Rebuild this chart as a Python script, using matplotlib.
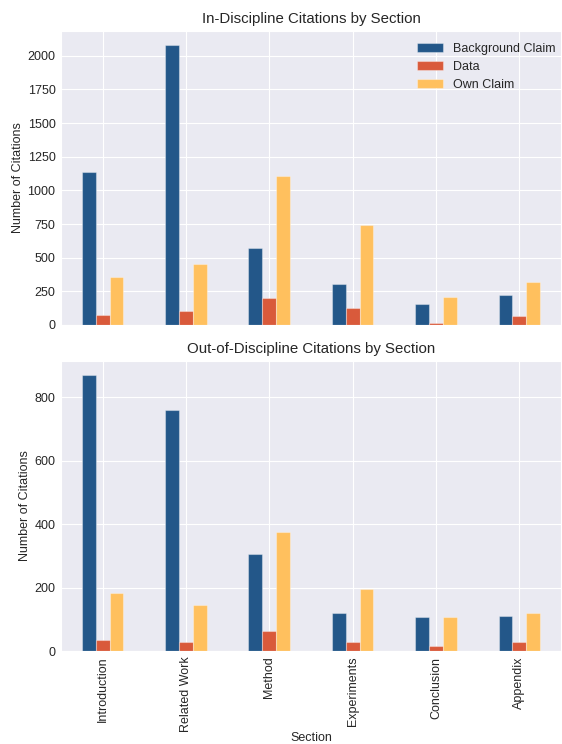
import matplotlib
matplotlib.use("Agg")
import matplotlib.pyplot as plt
import numpy as np
import seaborn as sns

sections = ["Introduction", "Related Work", "Method", "Experiments", "Conclusion", "Appendix"]
series_names = ["Background Claim", "Data", "Own Claim"]

in_background = [1140, 2080, 570, 307, 157, 220]
in_data = [77, 102, 202, 125, 18, 68]
in_own = [360, 450, 1108, 740, 210, 322]

out_background = [870, 760, 305, 119, 107, 110]
out_data = [35, 28, 63, 28, 15, 28]
out_own = [183, 145, 376, 195, 106, 119]

colors = ["#235789", "#D95A3B", "#FFC05E"]

sns.set_style("darkgrid")
plt.rcParams["font.family"] = ["Liberation Sans", "DejaVu Sans"]
plt.rcParams["text.color"] = "#262626"
plt.rcParams["axes.labelcolor"] = "#262626"
plt.rcParams["xtick.color"] = "#262626"
plt.rcParams["ytick.color"] = "#262626"

W, H = 562, 744
fig = plt.figure(figsize=(W / 100, H / 100), dpi=100)
ax1 = fig.add_axes([61 / W, (H - 325) / H, 500 / W, 294 / H])
ax2 = fig.add_axes([61 / W, (H - 651) / H, 500 / W, 290 / H], sharex=ax1)

x = np.arange(len(sections))
bw = 0.5 / 3


def draw(ax, data, title, show_legend):
    for i, (vals, name) in enumerate(zip(data, series_names)):
        ax.bar(x + (i - 1) * bw, vals, width=bw, color=colors[i], label=name,
               edgecolor=(1, 1, 1, 0.35), linewidth=0.8)
    ymax = max(max(v) for v in data)
    ax.set_ylim(0, ymax * 1.05)
    ax.set_xlim(-0.5, len(sections) - 0.5)
    ax.set_title(title, fontsize=10.8, pad=6)
    ax.set_ylabel("Number of Citations", fontsize=9, labelpad=2.5)
    ax.tick_params(axis="both", labelsize=9, length=0, pad=4)
    if show_legend:
        ax.legend(loc="upper right", bbox_to_anchor=(1.0, 0.98), fontsize=9,
                  frameon=False, handlelength=2.1, handleheight=0.7,
                  labelspacing=0.5, borderaxespad=0.05)


draw(ax1, [in_background, in_data, in_own], "In-Discipline Citations by Section", True)
draw(ax2, [out_background, out_data, out_own], "Out-of-Discipline Citations by Section", False)

ax1.tick_params(axis="x", labelbottom=False)
ax2.set_xticks(x)
ax2.set_xticklabels(sections, rotation=90)
ax2.set_xlabel("Section", fontsize=9, labelpad=0)
ax2.set_yticks([0, 200, 400, 600, 800])

fig.savefig("out.png", dpi=100)
